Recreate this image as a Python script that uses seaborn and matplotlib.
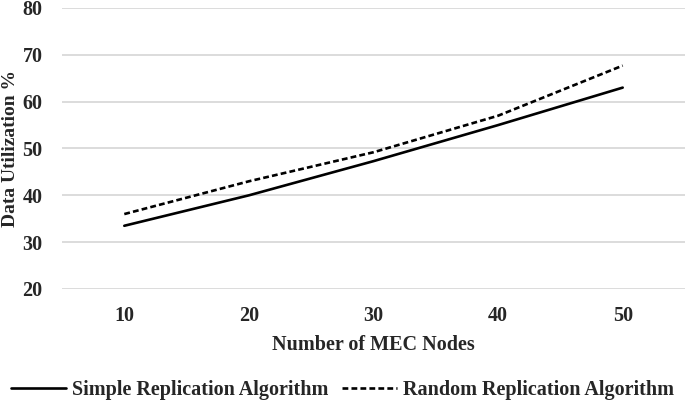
import pandas as pd
import matplotlib
matplotlib.use('Agg')
import matplotlib.pyplot as plt
import seaborn as sns

# Dati
mec_nodes = [10, 20, 30, 40, 50]
simple_util = [33.5, 40, 47.3, 55, 63]
random_util = [36, 43, 49.2, 57, 67.7]
series_names = ['Simple Replication Algorithm', 'Random Replication Algorithm']
y_ticks = [20, 30, 40, 50, 60, 70, 80]

df = pd.DataFrame({
    'nodes': mec_nodes * 2,
    'util': simple_util + random_util,
    'algorithm': [series_names[0]] * len(mec_nodes) + [series_names[1]] * len(mec_nodes),
})

sns.set_style('white')
plt.rcParams['font.family'] = ['Liberation Serif', 'DejaVu Serif']
plt.rcParams['font.weight'] = 'bold'

fig = plt.figure(figsize=(6.85, 4), dpi=100)
ax = fig.add_axes([0.0905, 0.2775, 0.9095, 0.7025])

sns.lineplot(data=df, x='nodes', y='util', style='algorithm', color='black',
             dashes={series_names[0]: '', series_names[1]: (2.2, 1.2)},
             linewidth=1.9, ax=ax, legend=False)

ax.set_xlim(5, 55)
ax.set_ylim(20, 80)
ax.set_xticks(mec_nodes)
ax.set_yticks(y_ticks)
ax.tick_params(axis='both', length=0, labelsize=14.5)
ax.tick_params(axis='x', pad=12)
ax.tick_params(axis='y', pad=14)
for lab in ax.get_xticklabels() + ax.get_yticklabels():
    lab.set_fontweight('bold')
ax.grid(True, axis='y', color='#d9d9d9', linewidth=1.3)
ax.set_axisbelow(True)
sns.despine(ax=ax, left=True, bottom=True)

ax.set_xlabel('Number of MEC Nodes', fontsize=14.5, fontweight='bold', labelpad=7)
ax.set_ylabel('Data Utilization %', fontsize=14, fontweight='bold', va='center')
ax.yaxis.set_label_coords(-0.083, 0.5)

# Legenda in basso
handles = [plt.Line2D([], [], color='black', linewidth=1.9),
           plt.Line2D([], [], color='black', linewidth=1.9, dashes=(2.2, 1.2))]
fig.legend(handles, series_names, loc='lower center', ncol=2, frameon=False,
           bbox_to_anchor=(0.5, -0.045), prop={'size': 14.5, 'weight': 'bold'},
           handlelength=2.7, handletextpad=0.3, columnspacing=0.7)

plt.savefig('out.png', dpi=100)
